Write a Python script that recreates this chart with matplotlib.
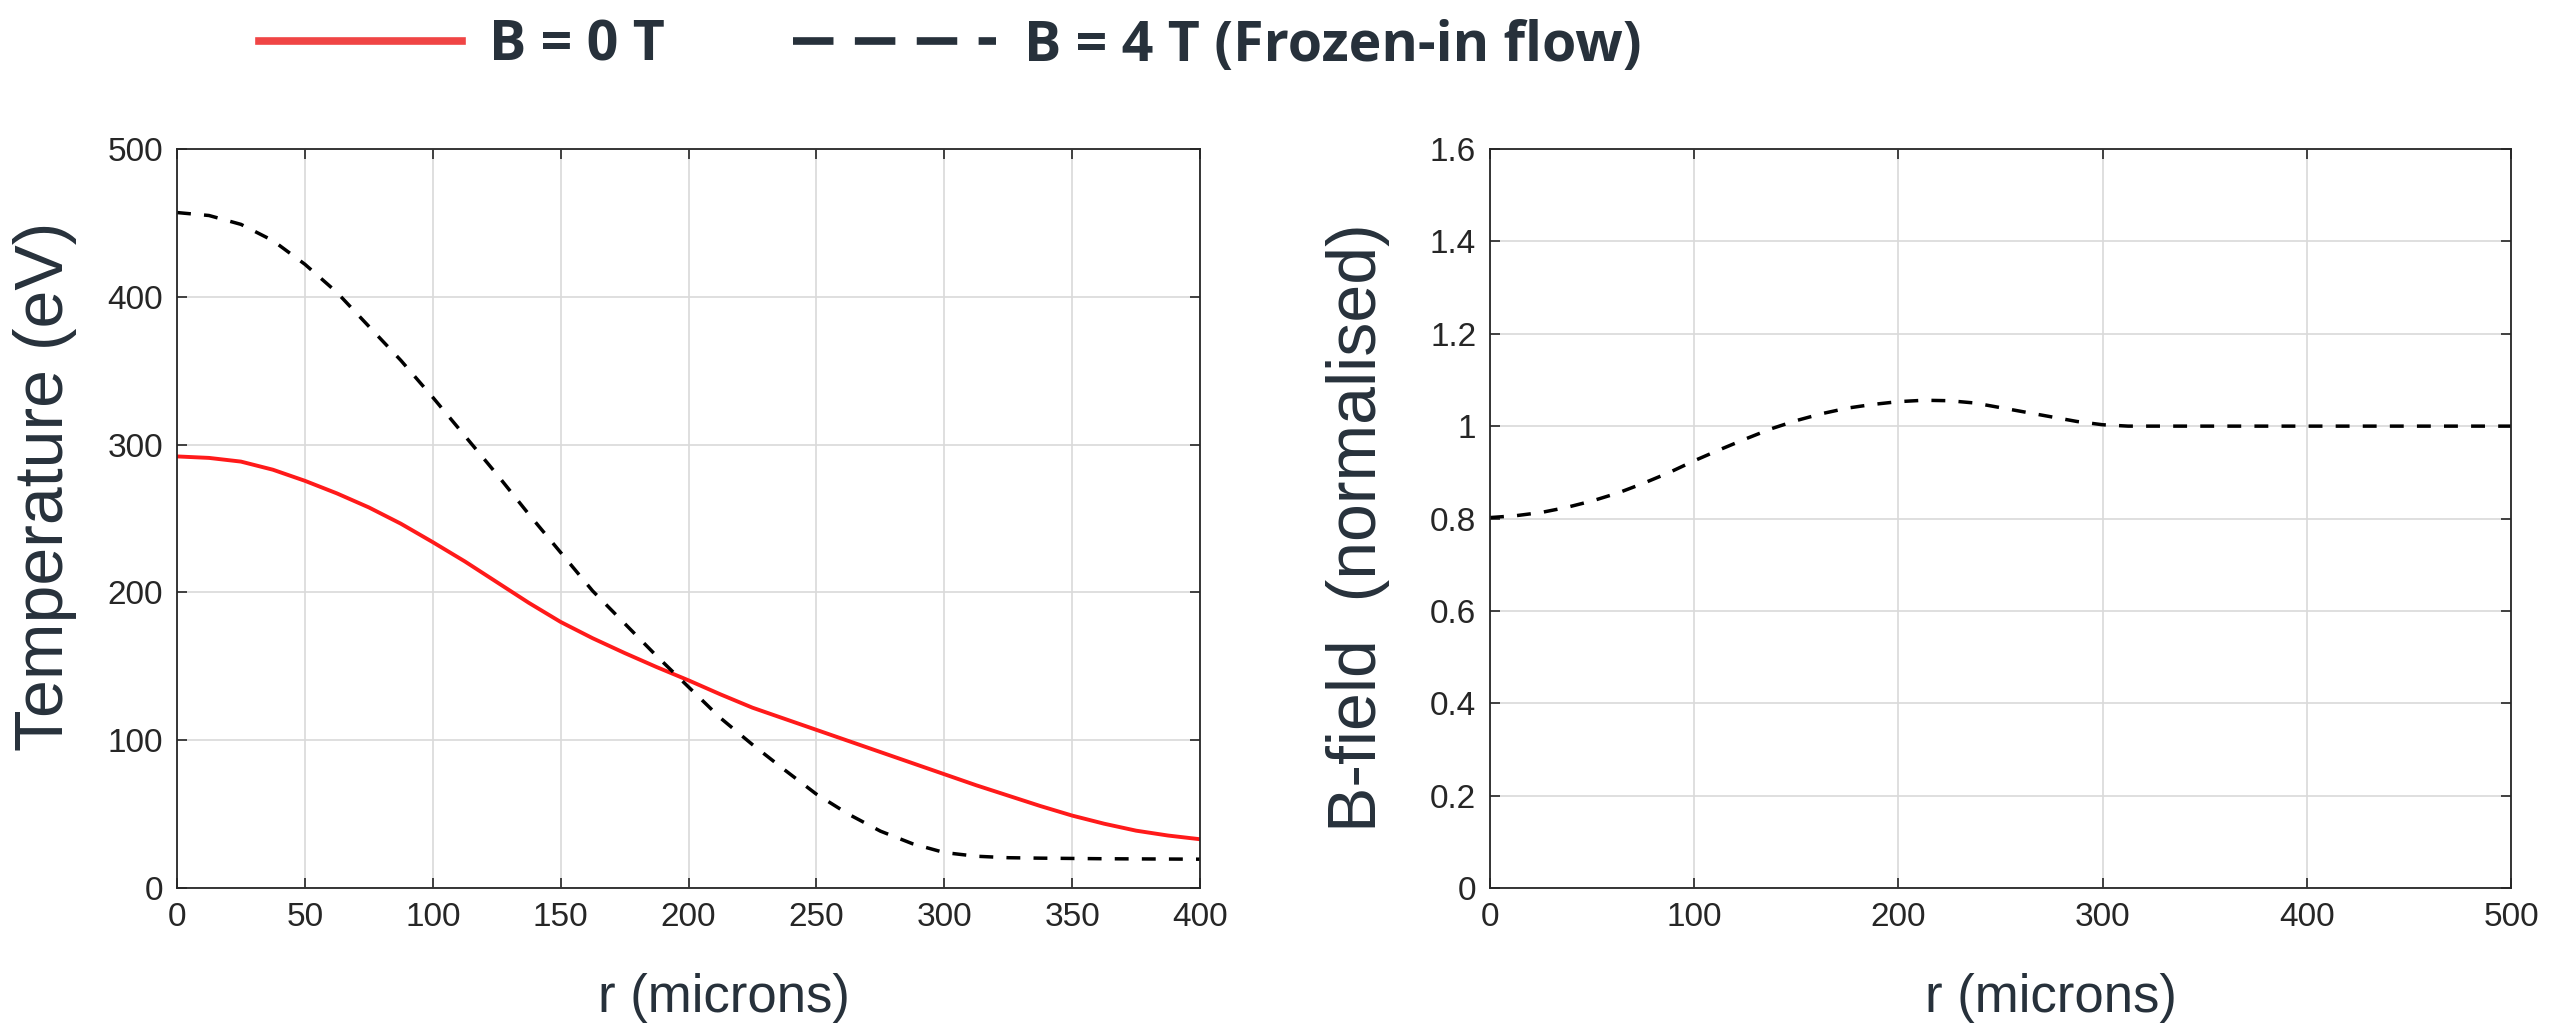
import matplotlib
matplotlib.use("Agg")
import matplotlib.pyplot as plt
from matplotlib.lines import Line2D
from matplotlib.ticker import FormatStrFormatter

# data
r_temp = [0, 12.5, 25, 37.5, 50, 62.5, 75, 87.5, 100, 112.5, 125, 137.5, 150, 162.5,
          175, 187.5, 200, 212.5, 225, 237.5, 250, 262.5, 275, 287.5, 300, 312.5,
          325, 337.5, 350, 362.5, 375, 387.5, 400]
temp_b0 = [292, 291, 288.5, 283, 275.5, 267, 257.5, 246.5, 234, 221, 207, 193, 180, 169,
           159, 149.5, 140.5, 131, 122, 114.5, 107, 99.5, 92, 84.5, 77, 69.5,
           62.5, 55.5, 49, 43.5, 38.8, 35.5, 33]
temp_b4 = [457, 455, 449, 438, 422, 403, 380, 357, 332, 306, 280, 253, 227, 201,
           179, 157, 136, 115, 97, 80, 63.5, 50, 38.5, 30, 24, 21.5,
           20.5, 20.2, 20, 19.8, 19.7, 19.6, 19.5]

r_bfield = [0, 12.5, 25, 37.5, 50, 62.5, 75, 87.5, 100, 112.5, 125, 137.5, 150, 162.5,
            175, 187.5, 200, 212.5, 225, 237.5, 250, 262.5, 275, 287.5, 300, 312.5,
            325, 350, 400, 450, 500]
bfield = [0.802, 0.806, 0.813, 0.824, 0.838, 0.855, 0.876, 0.899, 0.925, 0.949, 0.972,
          0.994, 1.012, 1.027, 1.039, 1.047, 1.053, 1.056, 1.055, 1.050, 1.040, 1.030,
          1.020, 1.010, 1.003, 1.0, 1.0, 1.0, 1.0, 1.0, 1.0]

labels = ["B = 0 T", "B = 4 T (Frozen-in flow)"]

text_col = "#27313b"
axis_col = "#262626"
red = "#ff1a1a"

plt.rcParams["font.family"] = ["Liberation Sans", "DejaVu Sans"]

fig = plt.figure(figsize=(25.73, 10.24), dpi=100)
ax1 = fig.add_axes([0.0688, 0.1328, 0.3976, 0.7217])
ax2 = fig.add_axes([0.5791, 0.1328, 0.3968, 0.7217])

ax1.plot(r_temp, temp_b0, color=red, lw=2.8)
ax1.plot(r_temp, temp_b4, color="black", lw=2.5, dashes=(4.0, 3.8))
ax1.set_xlim(0, 400)
ax1.set_ylim(0, 500)
ax1.set_xticks(range(0, 401, 50))
ax1.set_yticks(range(0, 501, 100))
ax1.set_xlabel("r (microns)", fontsize=38, color=text_col)
ax1.set_ylabel("Temperature (eV)", fontsize=49, color=text_col)
ax1.xaxis.set_label_coords(0.535, -0.115)
ax1.yaxis.set_label_coords(-0.098, 0.543)

ax2.plot(r_bfield, bfield, color="black", lw=2.5, dashes=(4.0, 3.8))
ax2.set_xlim(0, 500)
ax2.set_ylim(0, 1.6)
ax2.set_xticks(range(0, 501, 100))
ax2.set_yticks([0, 0.2, 0.4, 0.6, 0.8, 1.0, 1.2, 1.4, 1.6])
ax2.yaxis.set_major_formatter(FormatStrFormatter("%g"))
ax2.set_xlabel("r (microns)", fontsize=38, color=text_col)
ax2.set_ylabel("B-field  (normalised)", fontsize=49, color=text_col)
ax2.xaxis.set_label_coords(0.549, -0.115)
ax2.yaxis.set_label_coords(-0.098, 0.488)

for ax in (ax1, ax2):
    ax.grid(True, color="#d9d9d9", lw=1.2)
    ax.set_axisbelow(True)
    ax.tick_params(direction="in", length=7, width=1.2, top=True, right=True,
                   labelsize=24, colors=axis_col, pad=10)
    for s in ax.spines.values():
        s.set_color(axis_col)
        s.set_linewidth(1.3)

# legend on top
handles = [
    Line2D([], [], color="#f04545", lw=5.5),
    Line2D([], [], color=text_col, lw=5.5, dashes=(5.3, 2.8)),
]
leg = fig.legend(handles, labels, loc="center left", bbox_to_anchor=(0.092, 0.955),
                 ncol=2, frameon=False, handlelength=3.65, handletextpad=0.5,
                 columnspacing=2.3, borderaxespad=0,
                 prop={"family": ["Open Sans", "DejaVu Sans"], "weight": "bold", "size": 40})
for t in leg.get_texts():
    t.set_color(text_col)

fig.savefig("out.png", dpi=100)
